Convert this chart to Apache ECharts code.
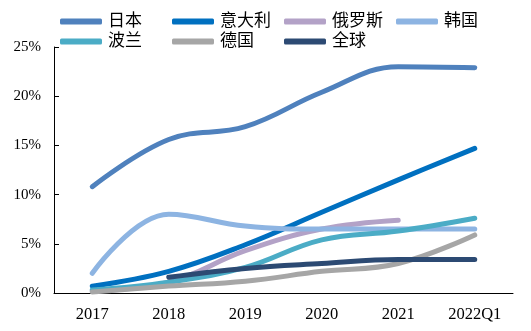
<!DOCTYPE html>
<html>
<head>
<meta charset="utf-8">
<script src="https://cdn.jsdelivr.net/npm/echarts@6/dist/echarts.min.js"></script>
<style>
  html, body { margin: 0; padding: 0; background: #fff; }
  #chart { width: 531px; height: 331px; }
</style>
</head>
<body>
<div id="chart"></div>
<script>
// Periods on the x axis
const periods = ['2017', '2018', '2019', '2020', '2021', '2022Q1'];

// Share values per market, in percent
const japan   = [10.8, 15.6, 16.9, 20.4, 23.0, 22.9];
const italy   = [0.7, 2.2, 4.9, 8.2, 11.5, 14.7];
const russia  = [0.2, 1.1, 4.3, 6.5, 7.4, null];
const korea   = [2.0, 8.0, 6.8, 6.5, 6.5, 6.5];
const poland  = [0.3, 1.1, 2.6, 5.4, 6.3, 7.6];
const germany = [0.1, 0.7, 1.2, 2.2, 3.0, 5.9];
const world   = [null, 1.6, 2.5, 3.0, 3.4, 3.4];

const seriesNames  = ['日本', '意大利', '俄罗斯', '韩国', '波兰', '德国', '全球'];
const seriesData   = [japan, italy, russia, korea, poland, germany, world];
const seriesColors = ['#4F81BD', '#0070C0', '#B3A2C7', '#8DB4E2', '#4BACC6', '#A6A6A6', '#2C4A73'];

const yTicks = [0, 5, 10, 15, 20, 25];

const fontFamily = '"Liberation Serif", "Noto Sans CJK SC", serif';

// Legend laid out on a 4-column grid, one legend block per entry
const legendCols = 4;
const legendLeft = 60, legendTop = 13, legendColW = 112, legendRowH = 20;
const legends = seriesNames.map((name, i) => ({
  left: legendLeft + (i % legendCols) * legendColW,
  top: legendTop + Math.floor(i / legendCols) * legendRowH,
  padding: 0,
  itemWidth: 42,
  itemHeight: 6,
  itemGap: 0,
  icon: 'roundRect',
  textStyle: { fontFamily: fontFamily, fontSize: 17, color: '#000', padding: [0, 0, 0, 1] },
  data: [name]
}));

const chart = echarts.init(document.getElementById('chart'), null, { renderer: 'canvas' });

chart.setOption({
  animation: false,
  backgroundColor: '#fff',
  textStyle: { fontFamily: fontFamily, color: '#000' },
  legend: legends,
  grid: { left: 54, right: 18, top: 47, bottom: 38 },
  xAxis: {
    type: 'category',
    data: periods,
    boundaryGap: true,
    axisLine: { lineStyle: { color: '#000', width: 1 } },
    axisTick: { inside: true, length: 5, lineStyle: { color: '#000' } },
    axisLabel: { color: '#000', fontSize: 16.5, margin: 13, fontFamily: fontFamily }
  },
  yAxis: {
    type: 'value',
    min: yTicks[0],
    max: yTicks[yTicks.length - 1],
    interval: 5,
    axisLine: { show: true, lineStyle: { color: '#000', width: 1 } },
    axisTick: { show: true, inside: true, length: 5, lineStyle: { color: '#000' } },
    splitLine: { show: false },
    axisLabel: { color: '#000', fontSize: 15, margin: 13, fontFamily: fontFamily, formatter: '{value}%' }
  },
  series: seriesNames.map((name, i) => ({
    name: name,
    type: 'line',
    data: seriesData[i],
    smooth: 0.4,
    showSymbol: false,
    symbol: 'none',
    connectNulls: false,
    lineStyle: { width: 5, color: seriesColors[i], cap: 'round', join: 'round' },
    itemStyle: { color: seriesColors[i] }
  }))
});
</script>
</body>
</html>
